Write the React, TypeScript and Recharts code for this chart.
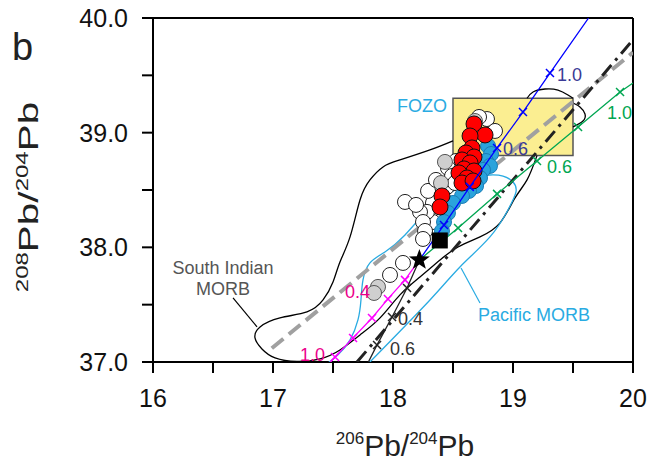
import React from 'react';
import { ComposedChart, Scatter, XAxis, YAxis, ReferenceArea, ReferenceLine } from 'recharts';

type Pt = { x: number; y: number; f?: number };
type Lbl = { x: number; y: number; text: string };

const FONT = '"Liberation Sans", Arial, sans-serif';

const xTicks = [16, 16.5, 17, 17.5, 18, 18.5, 19, 19.5, 20];
const yTicks = [37, 37.5, 38, 38.5, 39, 39.5, 40];

// samples
const whitePts: Pt[] = [
  { x: 18.783, y: 39.119 }, { x: 18.717, y: 39.137 }, { x: 18.85, y: 39.015 },
  { x: 18.525, y: 38.753 }, { x: 18.458, y: 38.692 }, { x: 18.492, y: 38.622 },
  { x: 18.45, y: 38.527 }, { x: 18.517, y: 38.561 }, { x: 18.392, y: 38.413 },
  { x: 18.367, y: 38.309 }, { x: 18.333, y: 38.221 }, { x: 18.333, y: 38.387 },
  { x: 18.292, y: 38.492 }, { x: 18.283, y: 38.309 }, { x: 18.225, y: 38.309 },
  { x: 18.25, y: 38.221 }, { x: 18.267, y: 38.143 }, { x: 18.25, y: 38.073 },
  { x: 18.1, y: 38.396 }, { x: 18.192, y: 38.37 }, { x: 18.358, y: 38.588 },
  { x: 18.083, y: 37.864 }, { x: 17.975, y: 37.759 },
];
const grayPts: Pt[] = [
  { x: 18.683, y: 39.102 }, { x: 18.433, y: 38.745 }, { x: 18.4, y: 38.561 },
  { x: 17.875, y: 37.655 }, { x: 17.842, y: 37.602 },
];
const bluePts: Pt[] = [
  { x: 18.792, y: 38.884 }, { x: 18.817, y: 38.814 }, { x: 18.775, y: 38.753 },
  { x: 18.808, y: 38.71 }, { x: 18.75, y: 38.675 }, { x: 18.725, y: 38.605 },
  { x: 18.692, y: 38.535 }, { x: 18.633, y: 38.492 }, { x: 18.575, y: 38.448 },
  { x: 18.5, y: 38.387 }, { x: 18.458, y: 38.3 }, { x: 18.425, y: 38.221 },
  { x: 18.408, y: 38.143 },
];
const redPts: Pt[] = [
  { x: 18.675, y: 39.076 }, { x: 18.767, y: 38.98 }, { x: 18.642, y: 38.971 },
  { x: 18.658, y: 38.867 }, { x: 18.608, y: 38.823 }, { x: 18.675, y: 38.788 },
  { x: 18.575, y: 38.762 }, { x: 18.642, y: 38.736 }, { x: 18.592, y: 38.684 },
  { x: 18.675, y: 38.666 }, { x: 18.55, y: 38.649 }, { x: 18.617, y: 38.605 },
  { x: 18.575, y: 38.561 }, { x: 18.667, y: 38.579 }, { x: 18.408, y: 38.448 },
  { x: 18.392, y: 38.352 },
];
const starPt: Pt[] = [{ x: 18.22, y: 37.89 }];
const squarePt: Pt[] = [{ x: 18.39, y: 38.06 }];

// fields
const siMorbMain: Pt[] = [
  { x: 19.2, y: 38.8 }, { x: 19.117, y: 38.588 }, { x: 19.017, y: 38.431 },
  { x: 18.892, y: 38.213 }, { x: 18.725, y: 38.091 }, { x: 18.542, y: 38.003 },
  { x: 18.392, y: 37.89 }, { x: 18.225, y: 37.742 }, { x: 18.058, y: 37.585 },
  { x: 17.892, y: 37.385 }, { x: 17.725, y: 37.236 }, { x: 17.558, y: 37.105 },
  { x: 17.392, y: 37.027 }, { x: 17.2, y: 37.005 }, { x: 17.017, y: 37.036 },
  { x: 16.908, y: 37.114 }, { x: 16.85, y: 37.21 }, { x: 16.892, y: 37.306 },
  { x: 17.058, y: 37.385 }, { x: 17.283, y: 37.437 }, { x: 17.417, y: 37.541 },
  { x: 17.5, y: 37.698 }, { x: 17.558, y: 37.873 }, { x: 17.642, y: 38.091 },
  { x: 17.725, y: 38.413 }, { x: 17.808, y: 38.588 }, { x: 17.917, y: 38.701 },
  { x: 18.058, y: 38.762 }, { x: 18.308, y: 38.849 }, { x: 18.5, y: 38.928 },
];
const siMorbTop: Pt[] = [
  { x: 19.117, y: 39.3 }, { x: 19.167, y: 39.355 }, { x: 19.267, y: 39.381 },
  { x: 19.375, y: 39.372 }, { x: 19.458, y: 39.329 }, { x: 19.5, y: 39.3 },
];
const siMorbRight: Pt[] = [
  { x: 19.5, y: 39.259 }, { x: 19.558, y: 39.224 }, { x: 19.6, y: 39.163 },
  { x: 19.583, y: 39.102 }, { x: 19.5, y: 39.05 },
];
const pacMorb: Pt[] = [
  { x: 17.77, y: 36.96 }, { x: 18.308, y: 37.541 }, { x: 18.558, y: 37.829 },
  { x: 18.808, y: 38.091 }, { x: 18.958, y: 38.326 }, { x: 19.025, y: 38.483 },
  { x: 19.0, y: 38.57 }, { x: 18.917, y: 38.622 }, { x: 18.808, y: 38.631 },
  { x: 18.683, y: 38.605 }, { x: 18.517, y: 38.5 }, { x: 18.308, y: 38.343 },
  { x: 18.1, y: 38.108 }, { x: 17.933, y: 37.96 }, { x: 17.808, y: 37.864 },
  { x: 17.75, y: 37.716 }, { x: 17.733, y: 37.541 }, { x: 17.708, y: 37.367 },
  { x: 17.642, y: 37.193 }, { x: 17.542, y: 37.062 }, { x: 17.43, y: 36.97 },
];

// reference lines
const grayDashed: Pt[] = [{ x: 16.99, y: 37.12 }, { x: 20, y: 39.7 }];
const blackDashDot: Pt[] = [{ x: 17.7, y: 37.0 }, { x: 20, y: 39.81 }];

// mixing curves
const blueMix: Pt[] = [
  { x: 18.22, y: 37.89 }, { x: 18.425, y: 38.195, f: 0.2 }, { x: 18.64, y: 38.527, f: 0.4 },
  { x: 18.867, y: 38.867, f: 0.6 }, { x: 19.083, y: 39.18, f: 0.8 }, { x: 19.308, y: 39.52, f: 1.0 },
  { x: 19.63, y: 40.0 },
];
const greenMix: Pt[] = [
  { x: 18.22, y: 37.89 }, { x: 18.542, y: 38.169, f: 0.2 }, { x: 18.867, y: 38.466, f: 0.4 },
  { x: 19.2, y: 38.753, f: 0.6 }, { x: 19.542, y: 39.05, f: 0.8 }, { x: 19.892, y: 39.355, f: 1.0 },
  { x: 20, y: 39.433 },
];
const magentaMix: Pt[] = [
  { x: 18.22, y: 37.89 }, { x: 18.1, y: 37.716, f: 0.2 }, { x: 17.958, y: 37.55, f: 0.4 },
  { x: 17.825, y: 37.384, f: 0.6 }, { x: 17.667, y: 37.21, f: 0.8 }, { x: 17.517, y: 37.044, f: 1.0 },
  { x: 17.47, y: 36.99 },
];
const blackMix: Pt[] = [
  { x: 18.22, y: 37.89 }, { x: 18.117, y: 37.646, f: 0.2 }, { x: 17.992, y: 37.393, f: 0.4 },
  { x: 17.867, y: 37.149, f: 0.6 }, { x: 17.79, y: 36.99 },
];

const siLeader: Pt[] = [{ x: 16.667, y: 37.559 }, { x: 16.867, y: 37.306 }];
const pacLeader: Pt[] = [{ x: 18.725, y: 37.515 }, { x: 18.567, y: 37.82 }];

// text labels
const blueLabels: Lbl[] = [{ x: 19.367, y: 39.503, text: '1.0' }, { x: 18.917, y: 38.858, text: '0.6' }];
const greenLabels: Lbl[] = [{ x: 19.783, y: 39.172, text: '1.0' }, { x: 19.283, y: 38.701, text: '0.6' }];
const magentaLabels: Lbl[] = [{ x: 17.808, y: 37.611, text: '0.4' }, { x: 17.433, y: 37.062, text: '1.0' }];
const blackLabels: Lbl[] = [{ x: 18.042, y: 37.376, text: '0.4' }, { x: 17.975, y: 37.114, text: '0.6' }];
const fozoLabel: Lbl[] = [{ x: 18.45, y: 39.233, text: 'FOZO' }];
const siLabels: Lbl[] = [{ x: 16.583, y: 37.82, text: 'South Indian' }, { x: 16.583, y: 37.637, text: 'MORB' }];
const pacLabel: Lbl[] = [{ x: 18.708, y: 37.411, text: 'Pacific MORB' }];

const CYAN = '#29ABE2';

const none = () => <g />;

const dot = (fill: string, stroke: string, r = 7.5) => (p: any) => (
  <circle cx={p.cx} cy={p.cy} r={r} fill={fill} stroke={stroke} strokeWidth={1} />
);

const cross = (color: string) => (p: any) => {
  if (p.payload?.f === undefined) return <g />;
  const s = 4;
  return (
    <path
      d={`M${p.cx - s},${p.cy - s}L${p.cx + s},${p.cy + s}M${p.cx - s},${p.cy + s}L${p.cx + s},${p.cy - s}`}
      stroke={color}
      strokeWidth={1.5}
      fill="none"
    />
  );
};

const star = (p: any) => {
  const pts: string[] = [];
  for (let i = 0; i < 10; i++) {
    const r = i % 2 === 0 ? 11 : 4.5;
    const a = -Math.PI / 2 + (i * Math.PI) / 5;
    pts.push(`${p.cx + r * Math.cos(a)},${p.cy + r * Math.sin(a)}`);
  }
  return <polygon points={pts.join(' ')} fill="#000" />;
};

const square = (p: any) => <rect x={p.cx - 8} y={p.cy - 8} width={16} height={16} fill="#000" />;

const text = (color: string, anchor: 'start' | 'middle' | 'end', size: number) => (p: any) => (
  <text
    x={p.cx}
    y={p.cy}
    textAnchor={anchor}
    dominantBaseline="central"
    fill={color}
    fontSize={size}
    fontFamily={FONT}
  >
    {p.payload.text}
  </text>
);

const YTitle = () => (
  <g fontFamily={FONT} fill="#222">
    <text x={12} y={60} fontSize={38}>b</text>
    <text transform="translate(38,197) rotate(-90) scale(1.5,1)" textAnchor="middle" fontSize={27}>
      <tspan fontSize={16} dy={-10}>208</tspan>
      <tspan dy={10}>Pb/</tspan>
      <tspan fontSize={16} dy={-10}>204</tspan>
      <tspan dy={10}>Pb</tspan>
    </text>
  </g>
);

const XTitle = () => (
  <text x={405} y={456} textAnchor="middle" fontSize={30} fontFamily={FONT} fill="#222">
    <tspan fontSize={17} dy={-12}>206</tspan>
    <tspan dy={12}>Pb/</tspan>
    <tspan fontSize={17} dy={-12}>204</tspan>
    <tspan dy={12}>Pb</tspan>
  </text>
);

const fmt = (v: number) => (Number.isInteger(v) ? (v >= 30 ? v.toFixed(1) : String(v)) : '');

const tickStyle = { fill: '#111', fontSize: 25, fontFamily: FONT };

export default function App() {
  return (
    <div style={{ position: 'absolute', left: 0, top: 0, background: '#fff' }}>
      <ComposedChart width={650} height={466} margin={{ top: 18, right: 17, left: 0, bottom: 0 }}>
        <XAxis
          type="number"
          dataKey="x"
          domain={[16, 20]}
          ticks={xTicks}
          tickFormatter={fmt}
          allowDataOverflow
          height={104}
          tickSize={11}
          tickMargin={16}
          tick={tickStyle}
          axisLine={{ stroke: '#000', strokeWidth: 2 }}
          tickLine={{ stroke: '#000', strokeWidth: 2 }}
          label={<XTitle />}
        />
        <YAxis
          type="number"
          dataKey="y"
          domain={[37, 40]}
          ticks={yTicks}
          tickFormatter={fmt}
          allowDataOverflow
          width={153}
          tickSize={11}
          tickMargin={14}
          tick={tickStyle}
          axisLine={{ stroke: '#000', strokeWidth: 2 }}
          tickLine={{ stroke: '#000', strokeWidth: 2 }}
          label={<YTitle />}
        />
        <ReferenceLine y={40} stroke="#000" strokeWidth={2} />
        <ReferenceLine x={20} stroke="#000" strokeWidth={2} />

        <ReferenceArea x1={18.5} x2={19.5} y1={38.8} y2={39.3} fill="#FBEE91" fillOpacity={1} stroke="#555" strokeWidth={1.5} />

        <Scatter data={siMorbMain} shape={none} line={{ stroke: '#000', strokeWidth: 1.3 }} lineJointType="natural" isAnimationActive={false} />
        <Scatter data={siMorbTop} shape={none} line={{ stroke: '#000', strokeWidth: 1.3 }} lineJointType="natural" isAnimationActive={false} />
        <Scatter data={siMorbRight} shape={none} line={{ stroke: '#000', strokeWidth: 1.3 }} lineJointType="natural" isAnimationActive={false} />
        <Scatter data={pacMorb} shape={none} line={{ stroke: CYAN, strokeWidth: 1.3 }} lineJointType="natural" isAnimationActive={false} />
        <Scatter data={siLeader} shape={none} line={{ stroke: '#000', strokeWidth: 1.2 }} isAnimationActive={false} />
        <Scatter data={pacLeader} shape={none} line={{ stroke: CYAN, strokeWidth: 1.2 }} isAnimationActive={false} />

        <Scatter data={grayDashed} shape={none} line={{ stroke: '#A0A0A0', strokeWidth: 4, strokeDasharray: '15 7' }} isAnimationActive={false} />
        <Scatter data={blackDashDot} shape={none} line={{ stroke: '#222', strokeWidth: 3, strokeDasharray: '14 6 3 6' }} isAnimationActive={false} />

        <Scatter data={magentaMix} shape={cross('#FF00FF')} line={{ stroke: '#FF00FF', strokeWidth: 1.3 }} isAnimationActive={false} />
        <Scatter data={blackMix} shape={cross('#222')} line={{ stroke: '#222', strokeWidth: 1.3 }} isAnimationActive={false} />
        <Scatter data={greenMix} shape={cross('#00A651')} line={{ stroke: '#00A651', strokeWidth: 1.3 }} isAnimationActive={false} />

        <Scatter data={whitePts} shape={dot('#fff', '#222')} isAnimationActive={false} />
        <Scatter data={grayPts} shape={dot('#CFCFCF', '#555')} isAnimationActive={false} />
        <Scatter data={bluePts} shape={dot('#2AA3DC', '#1B7DB5')} isAnimationActive={false} />
        <Scatter data={redPts} shape={dot('#FF0000', '#111', 8)} isAnimationActive={false} />

        <Scatter data={blueMix} shape={cross('#0000FF')} line={{ stroke: '#0000FF', strokeWidth: 1.3 }} isAnimationActive={false} />
        <Scatter data={squarePt} shape={square} isAnimationActive={false} />
        <Scatter data={starPt} shape={star} isAnimationActive={false} />

        <Scatter data={blueLabels} shape={text('#3A3A96', 'start', 18)} isAnimationActive={false} />
        <Scatter data={greenLabels} shape={text('#00A651', 'start', 18)} isAnimationActive={false} />
        <Scatter data={magentaLabels} shape={text('#EC008C', 'end', 18)} isAnimationActive={false} />
        <Scatter data={blackLabels} shape={text('#333', 'start', 18)} isAnimationActive={false} />
        <Scatter data={fozoLabel} shape={text(CYAN, 'end', 18)} isAnimationActive={false} />
        <Scatter data={siLabels} shape={text('#555', 'middle', 18)} isAnimationActive={false} />
        <Scatter data={pacLabel} shape={text(CYAN, 'start', 18)} isAnimationActive={false} />
      </ComposedChart>
    </div>
  );
}
